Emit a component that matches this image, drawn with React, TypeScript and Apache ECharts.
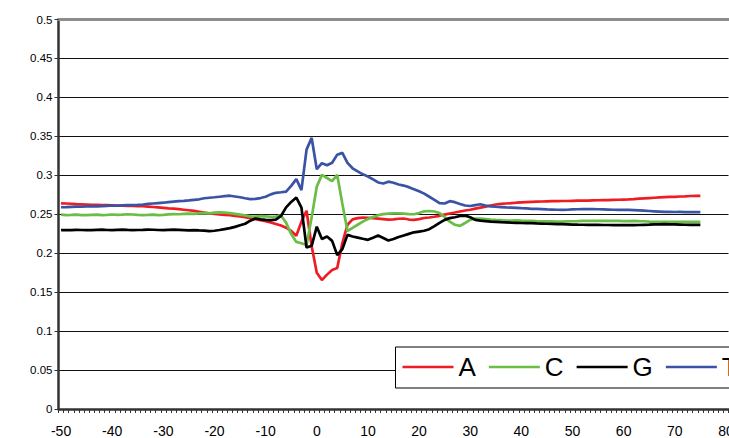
import React, { useEffect, useRef } from "react";
import * as echarts from "echarts";

// x categories -50 .. 80
const categories: string[] = Array.from({ length: 131 }, (_, i) => String(i - 50));
const yTicks = [0, 0.05, 0.1, 0.15, 0.2, 0.25, 0.3, 0.35, 0.4, 0.45, 0.5];

// values for x = -50 .. 75
const seriesA: number[] = [
  0.264, 0.2638, 0.2635, 0.263, 0.2628, 0.2625, 0.2622, 0.262, 0.2618, 0.2616,
  0.2614, 0.2612, 0.261, 0.2608, 0.2607, 0.2605, 0.2603, 0.2598, 0.2593, 0.2588,
  0.2582, 0.2576, 0.2571, 0.2565, 0.2558, 0.2551, 0.2543, 0.2532, 0.2521, 0.2512,
  0.2505, 0.2498, 0.2492, 0.2487, 0.248, 0.2472, 0.2462, 0.2448, 0.2438, 0.2425,
  0.2412, 0.2395, 0.2375, 0.2355, 0.2328, 0.2285, 0.2225, 0.2405, 0.2545, 0.209,
  0.175, 0.1655, 0.1725, 0.1785, 0.181, 0.213, 0.2365, 0.2435, 0.245, 0.2457,
  0.2455, 0.245, 0.2445, 0.2438, 0.243, 0.2435, 0.2442, 0.2445, 0.2432, 0.2427,
  0.2438, 0.2452, 0.2458, 0.2468, 0.248, 0.2495, 0.251, 0.2522, 0.2535, 0.2548,
  0.2558, 0.2572, 0.2585, 0.2598, 0.2612, 0.2625, 0.2632, 0.2638, 0.2642, 0.2648,
  0.2652, 0.2656, 0.266, 0.2662, 0.2664, 0.2666, 0.2668, 0.2668, 0.267, 0.267,
  0.2672, 0.2674, 0.2676, 0.2676, 0.2678, 0.268, 0.2682, 0.2682, 0.2684, 0.2686,
  0.2688, 0.269, 0.2694, 0.27, 0.2704, 0.2708, 0.2712, 0.2716, 0.272, 0.2722,
  0.2724, 0.2728, 0.273, 0.2734, 0.2735, 0.2735,
];

const seriesC: number[] = [
  0.2495, 0.249, 0.2492, 0.2495, 0.249, 0.2488, 0.2492, 0.2495, 0.249, 0.2493,
  0.2497, 0.2492, 0.2495, 0.25, 0.2497, 0.2493, 0.249, 0.2492, 0.2495, 0.249,
  0.2493, 0.2498, 0.2502, 0.25, 0.2505, 0.2508, 0.2504, 0.251, 0.2515, 0.2512,
  0.252, 0.2524, 0.252, 0.2515, 0.2505, 0.2495, 0.2485, 0.2472, 0.247, 0.2475,
  0.2472, 0.2468, 0.247, 0.2485, 0.239, 0.2245, 0.2145, 0.2128, 0.2105, 0.246,
  0.2855, 0.3005, 0.2965, 0.2925, 0.3005, 0.2635, 0.2285, 0.2325, 0.2365, 0.2405,
  0.2438, 0.2465, 0.2488, 0.2502, 0.2508, 0.2512, 0.2512, 0.2508, 0.2502, 0.25,
  0.2515, 0.2538, 0.2542, 0.2535, 0.2515, 0.2465, 0.2405, 0.2365, 0.235, 0.2388,
  0.2428, 0.2445, 0.2445, 0.2438, 0.243, 0.2427, 0.2425, 0.242, 0.2418, 0.2422,
  0.2418, 0.2415, 0.2415, 0.2412, 0.241, 0.2408, 0.2408, 0.2406, 0.2405, 0.2408,
  0.241, 0.2412, 0.2415, 0.2416, 0.2415, 0.2415, 0.2414, 0.2415, 0.2416, 0.2415,
  0.2413, 0.2412, 0.2415, 0.2412, 0.241, 0.2406, 0.2403, 0.2402, 0.2402, 0.2404,
  0.2403, 0.2402, 0.2402, 0.2401, 0.2402, 0.2402,
];

const seriesG: number[] = [
  0.2295, 0.2298, 0.2296, 0.23, 0.2298, 0.2295, 0.2297, 0.23, 0.2302, 0.2298,
  0.2296, 0.23, 0.2302, 0.2299, 0.2297, 0.2298, 0.23, 0.2303, 0.2301, 0.2298,
  0.2296, 0.2299, 0.2302, 0.23, 0.2297, 0.2294, 0.2296, 0.2292, 0.229, 0.2283,
  0.2288, 0.2298, 0.231, 0.2322, 0.2338, 0.2358, 0.2378, 0.2418, 0.2445, 0.2435,
  0.2428, 0.2425, 0.2432, 0.2478, 0.2588, 0.2658, 0.2714, 0.2585, 0.2072, 0.2095,
  0.234, 0.2182, 0.2214, 0.2158, 0.1975, 0.2052, 0.2235, 0.2215, 0.22, 0.2185,
  0.2172, 0.2198, 0.2228, 0.2195, 0.2162, 0.2182, 0.2208, 0.2228, 0.2248, 0.2268,
  0.2278, 0.2288, 0.2308, 0.2348, 0.239, 0.2428, 0.245, 0.2462, 0.2478, 0.2482,
  0.2462, 0.2428, 0.2418, 0.2412, 0.2406, 0.2402, 0.2398, 0.2395, 0.2392, 0.239,
  0.2388, 0.2386, 0.2385, 0.2382, 0.238, 0.2378, 0.2376, 0.2374, 0.2372, 0.237,
  0.2368, 0.2366, 0.2365, 0.2364, 0.2363, 0.2363, 0.2362, 0.2362, 0.2361, 0.236,
  0.236, 0.236, 0.236, 0.2362, 0.2364, 0.2366, 0.2369, 0.2371, 0.2372, 0.2371,
  0.2369, 0.2367, 0.2365, 0.2364, 0.2363, 0.2363,
];

const seriesT: number[] = [
  0.259, 0.2592, 0.2595, 0.2598, 0.2596, 0.26, 0.2603, 0.26, 0.2604, 0.2608,
  0.2612, 0.2609, 0.2614, 0.2618, 0.2616, 0.262, 0.2625, 0.2632, 0.2638, 0.2644,
  0.2648, 0.2655, 0.2662, 0.2668, 0.2672, 0.2678, 0.2685, 0.2692, 0.2705, 0.2712,
  0.2718, 0.2725, 0.2732, 0.2738, 0.2728, 0.2718, 0.2705, 0.2695, 0.2698, 0.2708,
  0.2725, 0.2755, 0.2775, 0.2782, 0.279, 0.2865, 0.295, 0.281, 0.333, 0.348,
  0.3078, 0.3155, 0.3128, 0.316, 0.3265, 0.3288, 0.316, 0.309, 0.305, 0.3012,
  0.2985, 0.2948, 0.2908, 0.2895, 0.2918, 0.2905, 0.2882, 0.2868, 0.2848, 0.2822,
  0.2795, 0.2765, 0.2725, 0.2685, 0.2642, 0.2638, 0.2668, 0.2655, 0.2632, 0.2612,
  0.2606, 0.2618, 0.2628, 0.2612, 0.2602, 0.2596, 0.2592, 0.2588, 0.2585, 0.2582,
  0.2578, 0.2575, 0.257, 0.2568, 0.2565, 0.2562, 0.256, 0.2558, 0.2555, 0.2558,
  0.2562, 0.2564, 0.2565, 0.2566, 0.2565, 0.2564, 0.2562, 0.256, 0.2558, 0.2556,
  0.2555, 0.2555, 0.2553, 0.255, 0.2546, 0.2542, 0.2538, 0.2534, 0.253, 0.253,
  0.2529, 0.253, 0.2528, 0.2527, 0.2528, 0.2528,
];

const seriesNames = ["A", "C", "G", "T"];
const seriesData = [seriesA, seriesC, seriesG, seriesT];
const seriesColors = ["#EE1D23", "#6ABD45", "#000000", "#3A53A4"];

const FONT = "'Liberation Sans', Arial, sans-serif";

export default function App() {
  const ref = useRef<HTMLDivElement>(null);
  useEffect(() => {
    if (!ref.current) return;
    const chart = echarts.init(ref.current, undefined, { renderer: "svg" });
    chart.setOption({
      animation: false,
      backgroundColor: "#ffffff",
      grid: { left: 58.5, top: 19.5, width: 670, height: 390.5, containLabel: false },
      legend: {
        left: 395.5,
        top: 347,
        orient: "horizontal",
        icon: "rect",
        itemWidth: 51,
        itemHeight: 2.5,
        itemGap: 13,
        padding: [7, 12, 8, 7],
        borderColor: "#000",
        borderWidth: 1,
        borderRadius: 0,
        backgroundColor: "#ffffff",
        textStyle: { fontSize: 26, fontFamily: FONT, color: "#000" },
        data: seriesNames,
      },
      xAxis: [
        {
          type: "category",
          data: categories,
          boundaryGap: true,
          axisLine: { show: true, lineStyle: { color: "#333", width: 2.5 } },
          axisTick: { show: true, interval: 0, length: 4, lineStyle: { color: "#333", width: 1 } },
          axisLabel: {
            interval: 9,
            margin: 15,
            fontSize: 14,
            fontFamily: FONT,
            color: "#000",
          },
          splitLine: { show: false },
        },
        {
          type: "category",
          data: categories,
          position: "top",
          boundaryGap: true,
          axisLine: { show: true, lineStyle: { color: "#8c8c8c", width: 3 } },
          axisTick: { show: false },
          axisLabel: { show: false },
          splitLine: { show: false },
        },
      ],
      yAxis: {
        type: "value",
        min: yTicks[0],
        max: yTicks[yTicks.length - 1],
        interval: 0.05,
        axisLine: { show: true, lineStyle: { color: "#333", width: 2.5 } },
        axisTick: { show: true, length: 4, lineStyle: { color: "#333", width: 1 } },
        axisLabel: {
          margin: 6,
          fontSize: 11.5,
          fontFamily: FONT,
          color: "#000",
          formatter: (v: number) => String(Math.round(v * 100) / 100),
        },
        splitLine: { show: true, lineStyle: { color: "#111", width: 1 } },
      },
      series: seriesNames.map((name, i) => ({
        name,
        type: "line",
        xAxisIndex: 0,
        data: seriesData[i],
        symbol: "none",
        smooth: false,
        lineStyle: { color: seriesColors[i], width: 2.7 },
        itemStyle: { color: seriesColors[i] },
        z: 3,
      })),
    });
    return () => chart.dispose();
  }, []);
  return (
    <div style={{ position: "fixed", left: 0, top: 0, width: 729, height: 438, overflow: "hidden", background: "#fff" }}>
      <div ref={ref} style={{ width: 820, height: 438 }} />
    </div>
  );
}
